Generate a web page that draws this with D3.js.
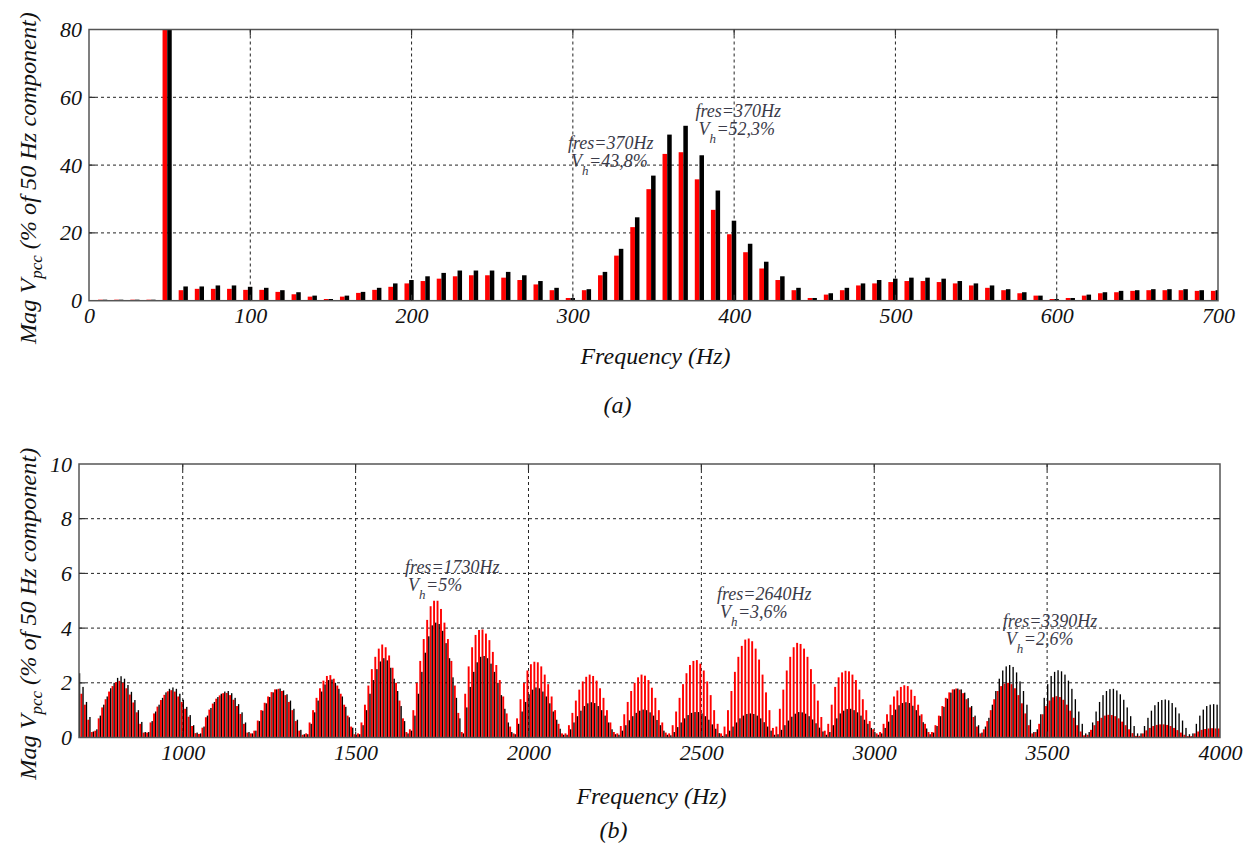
<!DOCTYPE html>
<html><head><meta charset="utf-8">
<script src="https://cdn.jsdelivr.net/npm/d3@7/dist/d3.min.js"></script>
<style>
body{margin:0;background:#fff}
svg text{font-family:"Liberation Serif","DejaVu Serif",serif !important;font-style:italic;fill:#111}
</style>
</head><body>
<svg id="chart" width="1253" height="844" font-family="Liberation Serif"></svg>
<script>
// ---------------- DATA ----------------
// Panel (a): harmonic bins 10..700 Hz
const freqA = d3.range(10, 701, 10);
const redA = [
  0.3,0.3,0.3,0.3,100,3.1,3.5,3.5,3.5,3.2,
  3.2,2.6,1.9,1.2,0.5,1.2,2.3,3.2,4.1,5.1,
  5.8,6.5,7.2,7.5,7.5,6.8,6.1,4.8,3.1,0.8,
  3.1,7.5,13.3,21.7,32.9,43.3,43.8,35.8,26.8,19.6,
  14.3,9.5,6.1,3.1,0.8,1.8,3.1,4.5,5.1,5.5,
  5.8,5.8,5.5,5.1,4.5,3.8,3.1,2.2,1.5,0.5,
  0.8,1.5,2.2,2.5,2.9,3.1,3.1,3.1,2.9,2.9];
const blackA = [
  0.3,0.3,0.3,0.3,100,4.2,4.2,4.5,4.5,4.1,
  3.8,3.1,2.5,1.5,0.5,1.5,2.6,3.8,5.1,6.1,
  7.2,8.2,8.9,8.9,8.9,8.5,7.5,5.8,3.8,0.8,
  3.4,8.5,15.3,24.6,36.9,49.0,51.6,42.9,32.5,23.6,
  16.8,11.5,7.2,3.8,0.8,2.2,3.8,5.1,6.1,6.5,
  6.8,6.8,6.5,5.8,5.1,4.5,3.4,2.5,1.5,0.5,
  0.8,1.8,2.5,2.9,3.1,3.4,3.4,3.4,3.1,3.1];
const xTicksA = [0,100,200,300,400,500,600,700];
const yTicksA = [0,20,40,60,80];

// Panel (b): bins 700..4000 Hz
const freqB = d3.range(700, 4001, 10);
const redB = [
  1.85,1.6,1.2,0.65,0.2,
  0.25,0.7,1.1,1.4,1.68,1.88,2.02,2.07,2.0,1.8,1.57,1.28,0.92,0.5,0.18,
  0.18,0.55,0.88,1.13,1.37,1.56,1.69,1.73,1.68,1.5,1.3,1.05,0.76,0.42,0.16,
  0.13,0.36,0.74,1.02,1.24,1.42,1.54,1.62,1.63,1.55,1.38,1.15,0.86,0.5,0.18,
  0.15,0.25,0.62,1.0,1.27,1.5,1.66,1.76,1.78,1.7,1.55,1.3,1.0,0.6,0.25,0.1,
  0.15,0.55,1.0,1.45,1.8,2.08,2.25,2.28,2.15,1.9,1.6,1.2,0.8,0.4,0.12,
  0.15,0.55,1.2,1.9,2.5,2.95,3.25,3.4,3.3,3.0,2.55,2.0,1.35,0.7,0.2,
  0.3,1.0,2.0,2.8,3.6,4.3,4.8,5.0,5.0,4.7,4.2,3.6,2.8,1.9,0.9,
  0.2,1.6,2.6,3.3,3.75,3.93,3.95,3.8,3.56,3.13,2.65,2.1,1.5,0.88,0.4,
  0.15,0.7,1.4,2.0,2.45,2.68,2.77,2.75,2.6,2.3,1.95,1.5,1.0,0.5,0.15,
  0.15,0.45,0.9,1.35,1.75,2.05,2.22,2.3,2.25,2.08,1.8,1.45,1.0,0.55,0.2,
  0.15,0.42,0.85,1.3,1.7,2.0,2.2,2.3,2.26,2.1,1.82,1.45,1.0,0.55,0.18,
  0.15,0.45,0.95,1.45,1.95,2.35,2.65,2.8,2.83,2.7,2.45,2.05,1.55,1.0,0.5,0.15,
  0.4,1.0,1.7,2.4,2.95,3.35,3.58,3.62,3.52,3.25,2.85,2.3,1.65,1.0,0.35,
  0.4,1.05,1.75,2.45,2.95,3.3,3.46,3.42,3.25,2.95,2.5,1.95,1.35,0.75,0.25,
  0.5,1.2,1.85,2.2,2.38,2.44,2.42,2.3,2.1,1.75,1.4,1.0,0.6,0.3,0.15,
  0.2,0.5,0.85,1.2,1.5,1.72,1.85,1.91,1.88,1.75,1.52,1.2,0.85,0.5,0.2,
  0.2,0.45,0.8,1.15,1.45,1.65,1.76,1.79,1.75,1.62,1.4,1.1,0.75,0.4,0.15,
  0.3,0.6,1.0,1.4,1.7,1.88,1.97,2.0,1.95,1.8,1.55,1.25,0.88,0.45,0.15,
  0.2,0.5,0.85,1.15,1.35,1.47,1.51,1.48,1.38,1.2,0.98,0.72,0.45,0.22,0.08,
  0.1,0.28,0.45,0.6,0.72,0.8,0.83,0.82,0.78,0.7,0.58,0.45,0.3,0.16,0.06,
  0.06,0.15,0.26,0.35,0.42,0.46,0.48,0.48,0.46,0.42,0.35,0.27,0.18,0.1,0.05,
  0.05,0.15,0.22,0.28,0.31,0.33,0.34,0.33,0.33];
const blackB = [
  2.35,1.85,1.3,0.75,0.22,
  0.3,0.8,1.2,1.5,1.8,2.0,2.18,2.24,2.15,1.92,1.67,1.37,1.0,0.57,0.2,
  0.2,0.6,0.95,1.2,1.45,1.65,1.78,1.83,1.78,1.6,1.38,1.12,0.82,0.45,0.18,
  0.15,0.4,0.8,1.08,1.3,1.48,1.6,1.68,1.70,1.62,1.45,1.22,0.92,0.55,0.2,
  0.15,0.25,0.6,0.98,1.25,1.48,1.65,1.76,1.79,1.72,1.58,1.35,1.05,0.65,0.28,0.12,
  0.12,0.5,0.92,1.35,1.68,1.94,2.1,2.12,2.0,1.78,1.5,1.12,0.74,0.36,0.1,
  0.12,0.45,1.0,1.6,2.1,2.5,2.78,2.9,2.82,2.55,2.15,1.7,1.15,0.6,0.15,
  0.25,0.8,1.6,2.4,3.1,3.7,4.1,4.2,4.15,3.9,3.45,2.9,2.2,1.45,0.7,
  0.15,1.1,1.85,2.4,2.75,2.95,2.98,2.9,2.7,2.4,2.0,1.55,1.05,0.55,0.2,
  0.12,0.5,0.95,1.3,1.58,1.75,1.83,1.8,1.68,1.5,1.25,0.95,0.65,0.32,0.1,
  0.1,0.3,0.55,0.78,0.98,1.15,1.25,1.29,1.26,1.15,1.0,0.8,0.55,0.3,0.12,
  0.1,0.25,0.45,0.63,0.78,0.9,0.98,1.02,1.0,0.92,0.8,0.64,0.45,0.25,0.1,
  0.08,0.2,0.38,0.55,0.7,0.82,0.9,0.93,0.93,0.88,0.78,0.65,0.48,0.32,0.16,0.06,
  0.12,0.25,0.4,0.55,0.7,0.8,0.86,0.88,0.86,0.8,0.7,0.56,0.4,0.25,0.1,
  0.12,0.28,0.45,0.62,0.76,0.87,0.93,0.92,0.87,0.78,0.66,0.52,0.36,0.22,0.1,
  0.2,0.45,0.7,0.88,0.98,1.04,1.05,1.0,0.92,0.8,0.65,0.5,0.35,0.2,0.1,
  0.15,0.35,0.58,0.82,1.02,1.18,1.26,1.29,1.26,1.16,1.0,0.8,0.56,0.33,0.12,
  0.18,0.42,0.78,1.12,1.42,1.64,1.76,1.79,1.76,1.64,1.44,1.15,0.8,0.45,0.18,
  0.4,0.72,1.2,1.7,2.15,2.45,2.6,2.65,2.58,2.38,2.05,1.7,1.2,0.65,0.2,
  0.3,0.85,1.45,1.95,2.25,2.4,2.46,2.42,2.3,2.08,1.78,1.4,0.95,0.5,0.15,
  0.2,0.55,0.95,1.3,1.55,1.7,1.77,1.78,1.72,1.58,1.38,1.1,0.78,0.42,0.15,
  0.15,0.42,0.72,0.98,1.18,1.3,1.37,1.39,1.36,1.26,1.1,0.88,0.62,0.35,0.12,
  0.15,0.5,0.8,1.02,1.15,1.2,1.22,1.2,1.2];
const xTicksB = [1000,1500,2000,2500,3000,3500,4000];
const yTicksB = [0,2,4,6,8,10];

// annotations: [freq, value, line1, value-string]
const annotA = [[297, 44.8, "fres=370Hz", "=43,8%"], [376, 54.2, "fres=370Hz", "=52,3%"]];
const annotB = [[1643, 6.0, "fres=1730Hz", "=5%"], [2545, 5.02, "fres=2640Hz", "=3,6%"], [3372, 4.04, "fres=3390Hz", "=2,6%"]];

// ---------------- DRAW ----------------
const FONT = "'Liberation Serif', 'DejaVu Serif', serif";
const svg = d3.select("#chart");

function panel(cfg) {
  const {id, left, right, top, bottom, xDom, yDom, freqs, red, black, xTicks, yTicks,
         gridX, gridY, redOff, blackOff, annots, titleY, subY, subLabel} = cfg;
  const x = d3.scaleLinear().domain(xDom).range([left, right]);
  const y = d3.scaleLinear().domain(yDom).range([bottom, top]);
  const g = svg.append("g");
  svg.append("clipPath").attr("id", "clip" + id)
    .append("rect").attr("x", left).attr("y", top).attr("width", right - left).attr("height", bottom - top);

  // grid
  g.append("g").selectAll("line").data(gridX).join("line")
    .attr("x1", d => x(d)).attr("x2", d => x(d)).attr("y1", top).attr("y2", bottom)
    .attr("stroke", "#222").attr("stroke-width", 1).attr("stroke-dasharray", "3,3");
  g.append("g").selectAll("line").data(gridY).join("line")
    .attr("y1", d => y(d)).attr("y2", d => y(d)).attr("x1", left).attr("x2", right)
    .attr("stroke", "#222").attr("stroke-width", 1).attr("stroke-dasharray", "3,3");

  // bars
  const bars = g.append("g").attr("clip-path", `url(#clip${id})`);
  bars.selectAll("rect.r").data(freqs).join("rect").attr("class", "r")
    .attr("x", d => x(d + redOff[0])).attr("width", d => x(d + redOff[1]) - x(d + redOff[0]))
    .attr("y", (d, i) => y(red[i])).attr("height", (d, i) => y(0) - y(red[i]))
    .attr("fill", "#ff0000");
  bars.selectAll("rect.k").data(freqs).join("rect").attr("class", "k")
    .attr("x", d => x(d + blackOff[0])).attr("width", d => x(d + blackOff[1]) - x(d + blackOff[0]))
    .attr("y", (d, i) => y(black[i])).attr("height", (d, i) => y(0) - y(black[i]))
    .attr("fill", "#000");

  // frame
  g.append("rect").attr("x", left).attr("y", top).attr("width", right - left).attr("height", bottom - top)
    .attr("fill", "none").attr("stroke", "#555").attr("stroke-width", 1.5);
  // inner tick marks
  g.append("g").selectAll("path").data(gridY).join("path")
    .attr("d", d => `M${left},${y(d)}h6M${right},${y(d)}h-6`).attr("stroke", "#333").attr("stroke-width", 1.2);
  g.append("g").selectAll("path").data(gridX).join("path")
    .attr("d", d => `M${x(d)},${top}v6M${x(d)},${bottom}v-6`).attr("stroke", "#333").attr("stroke-width", 1.2);

  // axes labels
  const ax = g.append("g").attr("transform", `translate(0,${bottom})`)
    .call(d3.axisBottom(x).tickValues(xTicks).tickSize(0).tickPadding(7).tickFormat(d3.format("d")));
  ax.attr("font-family", FONT).attr("font-size", 22);
  ax.select(".domain").remove();
  ax.selectAll("text").style("font-family", FONT).style("font-style", "italic").attr("fill", "#111");
  const ay = g.append("g").attr("transform", `translate(${left},0)`)
    .call(d3.axisLeft(y).tickValues(yTicks).tickSize(0).tickPadding(7).tickFormat(d3.format("d")));
  ay.attr("font-family", FONT).attr("font-size", 22);
  ay.select(".domain").remove();
  ay.selectAll("text").style("font-family", FONT).style("font-style", "italic").attr("fill", "#111");

  // axis titles
  g.append("text").attr("x", (left + right) / 2 + 2).attr("y", titleY).attr("text-anchor", "middle")
    .style("font-family", FONT).attr("font-size", 23).attr("textLength", 150).attr("lengthAdjust", "spacingAndGlyphs").text("Frequency (Hz)");
  const yt = g.append("text").attr("transform", `translate(36,${(top + bottom) / 2 + 13}) rotate(-90)`)
    .attr("text-anchor", "middle").style("font-family", FONT).attr("font-size", 23)
    .attr("textLength", 332).attr("lengthAdjust", "spacingAndGlyphs");
  yt.append("tspan").text("Mag V");
  yt.append("tspan").attr("font-size", 16).attr("dy", 6).text("pcc");
  yt.append("tspan").attr("dy", -6).text(" (% of 50 Hz component)");

  g.append("text").attr("x", (left + right) / 2 - 36).attr("y", subY).attr("text-anchor", "middle")
    .style("font-family", FONT).attr("font-size", 24).text(subLabel);

  // annotations: one text element per annotation, lines as tspans
  annots.forEach(a => {
    const ax0 = x(a[0]), ay0 = y(a[1]);
    const t = g.append("text").attr("x", ax0).attr("y", ay0).attr("font-size", 18)
      .style("font-family", FONT).style("fill", "#3a3a48");
    t.append("tspan").attr("x", ax0).attr("y", ay0).text(a[2]);
    t.append("tspan").attr("x", ax0 + 3).attr("y", ay0 + 18).text("V");
    t.append("tspan").attr("x", ax0 + 14).attr("y", ay0 + 26).attr("font-size", 13).text("h");
    t.append("tspan").attr("x", ax0 + 21).attr("y", ay0 + 18).text(a[3]);
  });
}

panel({id: "a", left: 89, right: 1218, top: 29.5, bottom: 300.7, xDom: [0, 700], yDom: [0, 80],
  freqs: freqA, red: redA, black: blackA, xTicks: xTicksA, yTicks: yTicksA,
  gridX: [100, 200, 300, 400, 500, 600], gridY: [20, 40, 60],
  redOff: [-4.4, -1.5], blackOff: [-1.5, 1.3], annots: annotA, titleY: 364, subY: 413, subLabel: "(a)"});

panel({id: "b", left: 79, right: 1220, top: 464, bottom: 737.5, xDom: [700, 4000], yDom: [0, 10],
  freqs: freqB, red: redB, black: blackB, xTicks: xTicksB, yTicks: yTicksB,
  gridX: [1000, 1500, 2000, 2500, 3000, 3500], gridY: [2, 4, 6, 8],
  redOff: [-5.8, -0.3], blackOff: [-0.3, 3.6], annots: annotB, titleY: 804, subY: 838, subLabel: "(b)"});
</script>
</body></html>
